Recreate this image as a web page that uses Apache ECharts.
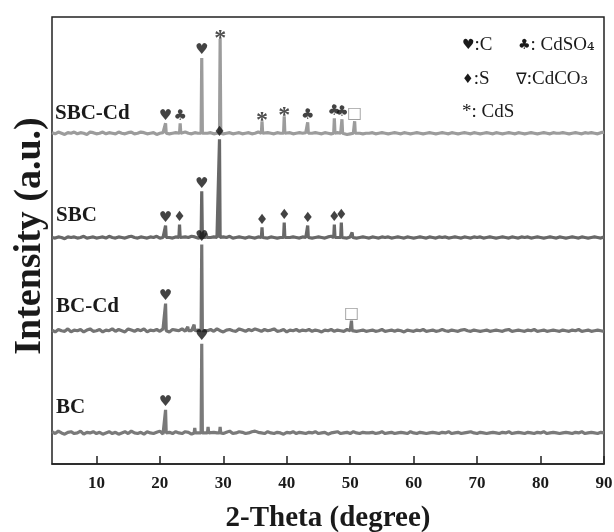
<!DOCTYPE html>
<html>
<head>
<meta charset="utf-8">
<script src="https://cdn.jsdelivr.net/npm/echarts@6/dist/echarts.min.js"></script>
<style>
  html, body { margin: 0; padding: 0; background: #fff; }
  #main { width: 614px; height: 532px; }
</style>
</head>
<body>
<div id="main"></div>
<script>
// 2-theta grid of the baseline samples: 3..90, step 0.5
var thetaStart = 3;
var thetaStep = 0.5;
var xTicks = [10, 20, 30, 40, 50, 60, 70, 80, 90];

var sampleNames = ['BC', 'BC-Cd', 'SBC', 'SBC-Cd'];
var offsets = [31, 133, 226, 330];   // vertical stacking of the patterns (a.u.)
var noiseAmp = 0.6;                  // a.u. per noise step

// baseline noise, one value per 0.5 degree
var noiseBC = [
  2,-1,3,0,-2,1,2,-1,0,3,-2,1,0,2,-1,1,-2,0,2,-1,
  1,-2,0,2,-1,3,0,-1,1,-2,2,0,-1,1,3,-2,0,1,-1,2,
  0,-1,2,1,-2,3,0,-1,2,0,-2,1,0,2,-1,1,3,-1,0,2,
  1,-1,0,2,3,1,0,-1,2,0,-1,1,0,-2,1,0,2,-1,1,0,
  -1,1,0,2,-1,0,1,-2,0,1,2,-1,0,1,-1,2,0,-1,1,0,
  0,1,-1,0,2,-1,0,1,-1,0,1,0,-1,2,0,-1,1,0,-1,0,
  1,0,-1,1,0,2,-1,0,1,-1,0,1,2,0,-1,1,0,-1,0,1,
  0,-1,1,0,2,-1,0,1,0,-1,1,0,-1,1,0,2,-1,0,1,0,
  -1,0,1,0,-1,1,0,2,-1,0,1,0,-1,1,0
];
var noiseBCCd = [
  1,-2,2,0,-1,3,-2,1,0,2,-2,1,3,-1,0,2,-2,1,0,3,
  -1,2,0,-2,3,1,-1,2,0,3,-2,1,0,2,-1,3,0,-2,2,1,
  0,3,-1,2,0,-2,1,3,-1,0,2,-1,3,0,-2,1,2,0,-1,3,
  1,-1,2,0,3,1,-1,2,0,1,3,-1,0,2,-2,1,0,2,-1,1,
  0,2,-1,1,0,-2,1,0,2,-1,1,0,-1,2,0,1,-1,0,1,-1,
  0,1,-1,0,2,-1,0,1,-1,1,0,-2,1,0,-1,1,0,2,-1,0,
  1,-1,0,2,0,-1,1,0,-1,1,2,0,-1,1,0,-1,0,1,-1,0,
  1,0,-1,1,2,-1,0,1,0,-1,1,0,2,-1,0,1,-1,0,1,0,
  -1,1,0,-1,1,0,2,-1,0,1,-1,0,1,0,-1
];
var noiseSBC = [
  0,-1,1,0,-2,1,0,1,-1,0,2,-1,0,1,-1,0,1,-1,2,0,
  -1,1,0,-1,1,2,0,-1,1,0,-1,1,0,2,-1,0,1,0,-1,1,
  0,-1,1,0,2,1,-1,0,1,-1,0,1,0,-1,1,0,2,-1,0,1,
  0,-1,1,0,-1,1,2,0,-1,1,0,-1,0,1,-1,0,1,0,-1,1,
  0,1,-1,0,1,0,-1,1,2,-1,0,1,0,-1,1,0,-1,0,1,0,
  -1,1,0,-1,1,0,1,-1,0,1,0,-1,1,0,-1,0,1,0,-1,1,
  0,-1,1,0,1,-1,0,1,0,-1,1,0,-1,1,0,1,-1,0,1,0,
  -1,0,1,0,-1,1,0,-1,1,0,1,-1,0,1,0,-1,0,1,0,-1,
  1,0,-1,0,1,0,-1,1,0,-1,0,1,0,-1,1
];
var noiseSBCCd = [
  1,-1,2,0,-2,1,0,2,-1,1,0,-2,2,1,-1,0,2,-1,1,0,
  -1,2,0,-1,1,2,-1,0,2,1,-1,0,1,-2,0,1,2,-1,0,1,
  0,-1,2,0,-1,1,0,-2,1,0,1,-1,0,2,-1,0,1,-1,0,1,
  -1,0,1,-1,0,2,0,-1,1,0,-1,1,0,-1,0,1,-1,0,1,0,
  1,-1,0,1,0,-1,1,0,-1,0,1,0,-1,-2,-1,0,1,0,-1,0,
  0,1,-1,0,1,0,-1,0,1,0,-1,1,0,-1,0,1,0,-1,0,1,
  0,-1,0,1,0,-1,1,0,-1,0,1,0,-1,1,0,-1,0,1,0,-1,
  1,0,-1,0,1,0,-1,1,0,-1,0,1,0,-1,0,1,0,-1,1,0,
  0,1,0,-1,0,1,0,-1,1,0,1,0,-1,1,2
];

// peaks: [2-theta, height above baseline], marks: phase symbol drawn above each peak
var peaksBC = [[20.9, 23], [25.5, 5], [26.6, 89], [27.6, 6], [29.5, 6]];
var marksBC = ['♥', '', '♥', '', ''];
var peaksBCCd = [[20.9, 27], [24.4, 4], [25.4, 6], [26.6, 86], [50.2, 10]];
var marksBCCd = ['♥', '', '', '♥', '□'];
var peaksSBC = [[20.9, 12], [23.1, 13], [26.6, 46], [27.3, 4], [29.4, 98], [36.1, 10],
  [39.6, 15], [43.3, 12], [47.5, 13], [48.6, 15], [50.3, 5]];
var marksSBC = ['♥', '♦', '♥', '', '♦', '♦', '♦', '♦', '♦', '♦', ''];
var peaksSBCCd = [[20.9, 10], [23.2, 10], [26.6, 75], [29.5, 94], [36.1, 12], [39.6, 17],
  [43.3, 11], [47.5, 15], [48.7, 14], [50.7, 12]];
var marksSBCCd = ['♥', '♣', '♥', '*', '*', '*', '♣', '♣', '♣', '□'];

var noises = [noiseBC, noiseBCCd, noiseSBC, noiseSBCCd];
var peaks = [peaksBC, peaksBCCd, peaksSBC, peaksSBCCd];
var marks = [marksBC, marksBCCd, marksSBC, marksSBCCd];
var colors = ['#7a7a7a', '#747474', '#686868', '#9c9c9c'];

var markStyle = {
  '♥': { fontSize: 15, fontFamily: 'DejaVu Sans', color: '#141414', distance: 0 },
  '♦': { fontSize: 14, fontFamily: 'DejaVu Sans', color: '#141414', distance: 0 },
  '♣': { fontSize: 15, fontFamily: 'DejaVu Sans', color: '#141414', distance: 0 },
  '*': { fontSize: 24, fontFamily: 'Liberation Serif', fontWeight: 'bold', color: '#222', distance: -12 },
  '□': { fontSize: 16, fontFamily: 'DejaVu Sans', color: '#888', distance: -1 }
};

function buildTrace(noise, pk, off) {
  var pts = [];
  noise.forEach(function (v, i) {
    var x = thetaStart + i * thetaStep;
    // keep the spikes clean: no baseline sample right under a peak
    var near = pk.some(function (p) { return Math.abs(p[0] - x) < 0.2; });
    if (!near) pts.push([x, off + v * noiseAmp]);
  });
  pk.forEach(function (p) {
    pts.push([p[0] - 0.1, off], [p[0], off + p[1]], [p[0] + 0.1, off]);
  });
  pts.sort(function (a, b) { return a[0] - b[0]; });
  return pts;
}

var series = [];
sampleNames.forEach(function (name, k) {
  series.push({
    name: name,
    type: 'line',
    data: buildTrace(noises[k], peaks[k], offsets[k]),
    symbol: 'none',
    lineStyle: { color: colors[k], width: 3.2, join: 'bevel' },
    z: 2 + k,
    animation: false
  });
});

// phase symbols
var markData = [];
peaks.forEach(function (pk, k) {
  pk.forEach(function (p, j) {
    var m = marks[k][j];
    if (!m) return;
    markData.push({ value: [p[0], offsets[k] + p[1]], label: Object.assign({ formatter: m }, markStyle[m]) });
  });
});
series.push({
  type: 'scatter',
  data: markData,
  symbolSize: 0,
  z: 10,
  silent: true,
  animation: false,
  label: { show: true, position: 'top' }
});

var chartDom = document.getElementById('main');
var myChart = echarts.init(chartDom);

var legendFont = '19px "Liberation Serif"';
var option = {
  animation: false,
  grid: { left: 52, right: 10, top: 17, bottom: 68, outerBoundsMode: 'none', containLabel: false,
    show: true, borderColor: '#222', borderWidth: 1.5 },
  xAxis: {
    type: 'value',
    min: 3,
    max: 90,
    name: '2-Theta (degree)',
    nameLocation: 'middle',
    nameGap: 40,
    nameTextStyle: { fontFamily: 'Liberation Serif', fontWeight: 'bold', fontSize: 29, color: '#1a1a1a' },
    axisLine: { show: true, lineStyle: { color: '#222', width: 1.5 } },
    axisTick: { show: true, inside: true, length: 8, customValues: xTicks, lineStyle: { color: '#222', width: 1.5 } },
    axisLabel: { customValues: xTicks, fontFamily: 'Liberation Serif', fontWeight: 'bold', fontSize: 17, color: '#1a1a1a', margin: 11 },
    splitLine: { show: false }
  },
  yAxis: {
    type: 'value',
    min: 0,
    max: 446,
    axisLine: { show: false },
    axisTick: { show: false },
    axisLabel: { show: false },
    splitLine: { show: false }
  },
  graphic: [
    { type: 'text', x: 30, y: 236, rotation: Math.PI / 2,
      style: { text: 'Intensity (a.u.)', font: 'bold 38px "Liberation Serif"', fill: '#1a1a1a', align: 'center', verticalAlign: 'middle' } },
    { type: 'text', x: 55, y: 114, style: { text: 'SBC-Cd', font: 'bold 21px "Liberation Serif"', fill: '#1a1a1a', verticalAlign: 'middle' } },
    { type: 'text', x: 56, y: 216, style: { text: 'SBC', font: 'bold 21px "Liberation Serif"', fill: '#1a1a1a', verticalAlign: 'middle' } },
    { type: 'text', x: 56, y: 307, style: { text: 'BC-Cd', font: 'bold 21px "Liberation Serif"', fill: '#1a1a1a', verticalAlign: 'middle' } },
    { type: 'text', x: 56, y: 408, style: { text: 'BC', font: 'bold 21px "Liberation Serif"', fill: '#1a1a1a', verticalAlign: 'middle' } },
    // phase legend
    { type: 'text', x: 462, y: 36, style: { text: '{s|♥}:C', font: legendFont, fill: '#1a1a1a',
        rich: { s: { fontFamily: 'DejaVu Sans', fontSize: 14 } } } },
    { type: 'text', x: 518, y: 36, style: { text: '{s|♣}: CdSO{sub|₄}', font: legendFont, fill: '#1a1a1a',
        rich: { s: { fontFamily: 'DejaVu Sans', fontSize: 14 }, sub: { fontFamily: 'DejaVu Serif', fontSize: 19 } } } },
    { type: 'text', x: 462, y: 70, style: { text: '{s|♦}:S', font: legendFont, fill: '#1a1a1a',
        rich: { s: { fontFamily: 'DejaVu Sans', fontSize: 13 } } } },
    { type: 'text', x: 516, y: 70, style: { text: '{s|∇}:CdCO{sub|₃}', font: legendFont, fill: '#1a1a1a',
        rich: { s: { fontFamily: 'DejaVu Sans', fontSize: 16 }, sub: { fontFamily: 'DejaVu Serif', fontSize: 19 } } } },
    { type: 'text', x: 462, y: 103, style: { text: '*: CdS', font: legendFont, fill: '#1a1a1a' } }
  ],
  series: series
};

myChart.setOption(option);
</script>
</body>
</html>
